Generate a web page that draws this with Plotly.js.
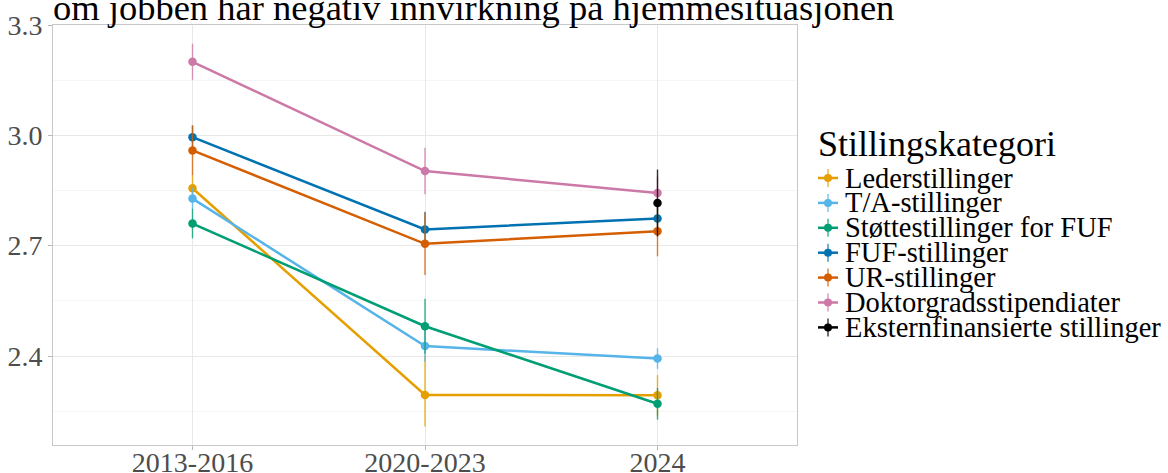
<!DOCTYPE html>
<html>
<head>
<meta charset="utf-8">
<script src="https://cdn.plot.ly/plotly-3.0.1.min.js"></script>
<style>html,body{margin:0;padding:0;background:#fff;}#chart{width:1168px;height:473px;}</style>
</head>
<body>
<div id="chart"></div>
<script>
const categories = ['2013-2016', '2020-2023', '2024'];
const seriesNames = ['Lederstillinger', 'T/A-stillinger', 'Støttestillinger for FUF', 'FUF-stillinger', 'UR-stillinger', 'Doktorgradsstipendiater', 'Eksternfinansierte stillinger'];
const seriesColors = ['#E69F00', '#56B4E9', '#009E73', '#0072B2', '#D55E00', '#CC79A7', '#000000'];

const lederValues = [2.856, 2.294, 2.293];
const lederErrPlus = [0.035, 0.109, 0.055];
const lederErrMinus = [0.035, 0.086, 0.055];

const taValues = [2.828, 2.427, 2.393];
const taErr = [0.03, 0.043, 0.028];

const stotteValues = [2.760, 2.481, 2.270];
const stotteErr = [0.04, 0.075, 0.043];

const fufValues = [2.995, 2.744, 2.774];
const fufErr = [0.032, 0.048, 0.03];

const urValues = [2.959, 2.705, 2.739];
const urErr = [0.068, 0.085, 0.068];

const doktValues = [3.200, 2.903, 2.843];
const doktErr = [0.049, 0.063, 0.045];

const eksternValues = [null, null, 2.816];
const eksternErr = [null, null, 0.091];

const yTicks = [2.4, 2.7, 3.0, 3.3];
const yTickLabels = ['2.4', '2.7', '3.0', '3.3'];

const titleText = 'om jobben har negativ innvirkning på hjemmesituasjonen';
const legendTitle = 'Stillingskategori';

const valueSets = [lederValues, taValues, stotteValues, fufValues, urValues, doktValues, eksternValues];
const errPlusSets = [lederErrPlus, taErr, stotteErr, fufErr, urErr, doktErr, eksternErr];
const errMinusSets = [lederErrMinus, taErr, stotteErr, fufErr, urErr, doktErr, eksternErr];

function hexToRgba(hex, a) {
  const n = parseInt(hex.slice(1), 16);
  return 'rgba(' + ((n >> 16) & 255) + ',' + ((n >> 8) & 255) + ',' + (n & 255) + ',' + a + ')';
}

const traces = seriesNames.map((name, i) => ({
  type: 'scatter',
  mode: 'lines+markers',
  name: name,
  x: categories,
  y: valueSets[i],
  line: {color: seriesColors[i], width: 2.5},
  marker: {color: seriesColors[i], size: 8.5},
  error_y: {type: 'data', array: errPlusSets[i], arrayminus: errMinusSets[i], symmetric: false, width: 0, thickness: 1.4, color: hexToRgba(seriesColors[i], 0.8)},
  showlegend: false,
  connectgaps: false
}));

// plot area in pixels
const W = 1168, H = 473;
const mL = 53, mR = 371, mT = 25, mB = 28;
const pw = W - mL - mR, ph = H - mT - mB;
const px2x = p => (p - mL) / pw;
const py2y = p => (H - mB - p) / ph;

const serif = 'Liberation Serif, Times New Roman, serif';
const annotations = [];
const shapes = [];

annotations.push({
  xref: 'paper', yref: 'paper', x: px2x(816), y: py2y(144), xanchor: 'left', yanchor: 'middle',
  text: legendTitle, showarrow: false, font: {family: serif, size: 36, color: '#000'}
});

seriesNames.forEach((name, i) => {
  const cy = 178 + 24.9 * i;
  const gx = px2x(828), gy = py2y(cy);
  annotations.push({
    xref: 'paper', yref: 'paper', x: px2x(843), y: gy, xanchor: 'left', yanchor: 'middle',
    text: name, showarrow: false, font: {family: serif, size: 28.5, color: '#000'}
  });
  const col = seriesColors[i];
  shapes.push({type: 'line', xref: 'paper', yref: 'paper', xsizemode: 'pixel', ysizemode: 'pixel', xanchor: gx, yanchor: gy,
    x0: -10, x1: 10, y0: 0, y1: 0, line: {color: col, width: 2.5}});
  shapes.push({type: 'line', xref: 'paper', yref: 'paper', xsizemode: 'pixel', ysizemode: 'pixel', xanchor: gx, yanchor: gy,
    x0: 0, x1: 0, y0: -9, y1: 9, line: {color: hexToRgba(col, 0.8), width: 1.4}});
  shapes.push({type: 'circle', xref: 'paper', yref: 'paper', xsizemode: 'pixel', ysizemode: 'pixel', xanchor: gx, yanchor: gy,
    x0: -4, x1: 4, y0: -4, y1: 4, fillcolor: col, line: {color: col, width: 0}});
});

const layout = {
  width: W, height: H,
  margin: {l: mL, r: mR, t: mT, b: mB, pad: 0},
  paper_bgcolor: '#fff', plot_bgcolor: '#fff',
  showlegend: false,
  title: {
    text: titleText,
    font: {family: serif, size: 36.5, color: '#000'},
    xref: 'container', yref: 'container',
    x: mL / W, xanchor: 'left',
    y: 1 - 7 / H, yanchor: 'middle'
  },
  xaxis: {
    type: 'category',
    range: [-0.6, 2.6],
    showgrid: true, gridcolor: '#E8E8E8', gridwidth: 1,
    ticks: 'outside', ticklen: 4, tickcolor: '#B8B8B8', tickwidth: 1,
    ticklabelstandoff: -12,
    showline: true, linecolor: '#C8C8C8', linewidth: 1, mirror: true,
    zeroline: false, automargin: false,
    tickfont: {family: serif, size: 28, color: '#4D4D4D'}
  },
  yaxis: {
    range: [2.158, 3.3],
    tickvals: yTicks, ticktext: yTickLabels,
    showgrid: true, gridcolor: '#E8E8E8', gridwidth: 1,
    minor: {dtick: 0.15, tick0: 0, showgrid: true, gridcolor: '#F2F2F2', gridwidth: 0.8, ticks: ''},
    ticks: 'outside', ticklen: 4, tickcolor: '#B8B8B8', tickwidth: 1,
    showline: true, linecolor: '#C8C8C8', linewidth: 1, mirror: true,
    zeroline: false, automargin: false,
    tickfont: {family: serif, size: 28, color: '#4D4D4D'}
  },
  annotations: annotations,
  shapes: shapes
};

Plotly.newPlot('chart', traces, layout, {displayModeBar: false, staticPlot: true});
</script>
</body>
</html>
